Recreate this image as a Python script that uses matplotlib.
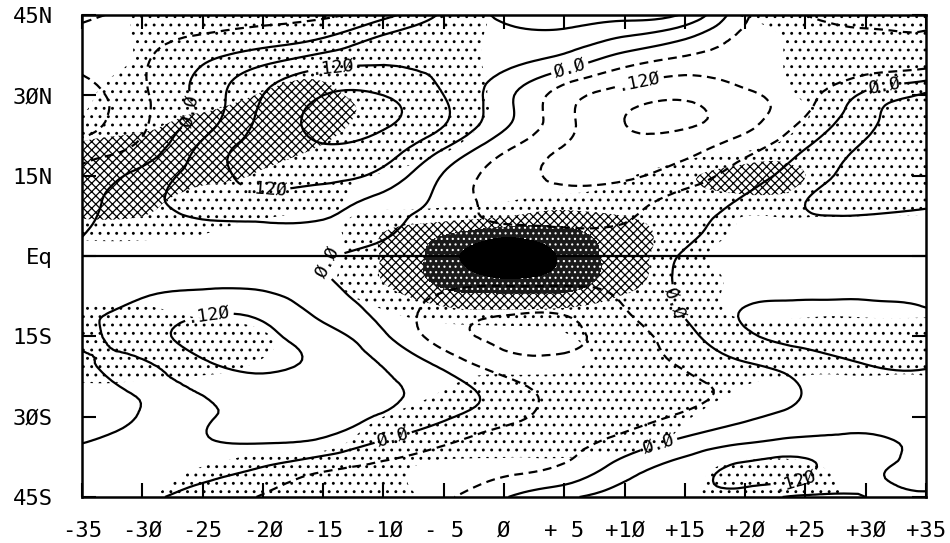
import numpy as np
import matplotlib

matplotlib.use("Agg")
import matplotlib.pyplot as plt
import matplotlib.tri as mtri

LONS = [-35, -30, -25, -20, -15, -10, -5, 0, 5, 10, 15, 20, 25, 30, 35]
LATS = [45, 40, 35, 30, 25, 20, 15, 10, 5, 0, -5, -10, -15, -20, -25, -30, -35, -40, -45]

# contoured field, one row per latitude (north to south)
FIELD = [
    [-0.14, -0.10, -0.09, -0.08, -0.07, -0.02, 0.07, 0.13, 0.15, 0.14, 0.11, -0.05, -0.12, -0.14, -0.14],
    [-0.09, -0.075, -0.045, -0.02, 0.015, 0.08, 0.10, 0.10, 0.09, 0.04, -0.01, -0.08, -0.10, -0.11, -0.11],
    [-0.11, -0.065, 0.005, 0.07, 0.12, 0.125, 0.11, 0.065, 0.005, -0.065, -0.10, -0.10, -0.09, -0.08, -0.06],
    [-0.15, -0.07, 0.02, 0.12, 0.18, 0.18, 0.12, 0.02, -0.09, -0.15, -0.17, -0.13, -0.08, 0.015, 0.07],
    [-0.15, -0.07, 0.03, 0.135, 0.195, 0.19, 0.125, 0.015, -0.10, -0.18, -0.19, -0.14, -0.05, 0.045, 0.09],
    [-0.09, -0.04, 0.075, 0.15, 0.175, 0.15, 0.06, -0.05, -0.125, -0.16, -0.14, -0.08, 0.0, 0.07, 0.095],
    [-0.045, 0.02, 0.09, 0.14, 0.14, 0.10, -0.005, -0.09, -0.13, -0.13, -0.09, -0.03, 0.035, 0.08, 0.09],
    [-0.02, 0.04, 0.085, 0.095, 0.08, 0.04, -0.02, -0.085, -0.095, -0.08, -0.035, 0.01, 0.06, 0.07, 0.065],
    [-0.005, 0.03, 0.045, 0.05, 0.05, 0.015, -0.04, -0.055, -0.058, -0.055, -0.015, 0.025, 0.045, 0.05, 0.05],
    [0.01, 0.03, 0.035, 0.03, 0.008, -0.025, -0.04, -0.045, -0.045, -0.035, 0.005, 0.03, 0.04, 0.045, 0.045],
    [0.02, 0.045, 0.05, 0.045, 0.01, -0.035, -0.05, -0.055, -0.055, -0.045, 0.012, 0.04, 0.05, 0.05, 0.05],
    [0.05, 0.075, 0.105, 0.10, 0.04, -0.02, -0.085, -0.11, -0.11, -0.062, 0.008, 0.062, 0.07, 0.07, 0.062],
    [0.05, 0.09, 0.145, 0.135, 0.085, 0.01, -0.09, -0.13, -0.13, -0.09, -0.02, 0.05, 0.08, 0.09, 0.09],
    [0.07, 0.055, 0.11, 0.135, 0.105, 0.055, -0.02, -0.095, -0.11, -0.09, -0.05, -0.003, 0.03, 0.062, 0.068],
    [0.085, 0.055, 0.065, 0.09, 0.085, 0.07, 0.03, -0.03, -0.085, -0.09, -0.075, -0.04, 0.003, 0.035, 0.04],
    [0.08, 0.058, 0.055, 0.075, 0.075, 0.055, 0.01, -0.04, -0.08, -0.08, -0.05, -0.01, 0.02, 0.04, 0.04],
    [0.06, 0.05, 0.055, 0.06, 0.045, -0.01, -0.055, -0.09, -0.08, -0.035, 0.02, 0.06, 0.08, 0.07, 0.05],
    [0.045, 0.035, 0.02, -0.01, -0.055, -0.08, -0.09, -0.075, -0.045, 0.035, 0.09, 0.135, 0.13, 0.07, 0.05],
    [0.03, 0.01, -0.02, -0.065, -0.09, -0.10, -0.07, -0.005, 0.05, 0.085, 0.10, 0.09, 0.05, 0.06, 0.065],
]

# shading class: 1 light dots, 2 crosses, 3 dark, 4 black core
STIPPLE = [
    [0, 0.6, 1, 1, 1, 1, 1, 0.3, 0, 0, 0, 0.6, 1, 1, 1],
    [0, 0.6, 1, 1, 1, 1, 1, 0.2, 0, 0, 0, 0, 0.8, 1, 1],
    [0, 0.7, 1, 1, 1.3, 1, 1, 0.2, 0, 0, 0, 0, 0.8, 1, 1],
    [0.3, 1, 1, 1.6, 1.7, 1.2, 1, 0.3, 0, 0, 0, 0, 0.6, 1, 1],
    [0.7, 1.2, 1.8, 2, 1.9, 1.1, 1, 0.2, 0, 0, 0, 0, 0.5, 1, 1],
    [1.8, 2, 2, 1.9, 1.4, 1, 0.6, 0, 0, 0, 0, 0.3, 1, 1, 1],
    [2, 2, 1.8, 1.4, 1, 0.4, 0, 0, 0, 0.4, 1.2, 2.1, 1.5, 1, 1],
    [2, 1.8, 1, 1, 0.7, 0.2, 0.2, 0.5, 1, 1, 1, 1, 1, 1, 1],
    [1, 1, 0.6, 0.2, 0.2, 1.4, 2.1, 2.7, 2.6, 1.9, 1, 0.4, 0.2, 0, 0],
    [0, 0, 0, 0, 0.1, 1.6, 3, 4.3, 3.3, 2, 0.8, 0.2, 0, 0, 0],
    [0, 0, 0, 0, 0.3, 1.5, 2.7, 3.2, 3, 1.8, 1, 0.3, 0, 0, 0],
    [0.6, 0.6, 0.3, 0.1, 0, 0.5, 1.3, 1.5, 1.4, 1.1, 1, 0.3, 0.3, 0.3, 0.3],
    [1, 1, 1, 0.6, 0, 0, 0, 0, 0.4, 1, 1, 1, 1, 1, 1],
    [1, 1, 1, 0.4, 0, 0, 0, 0, 0.2, 1, 1, 1, 1, 1, 1],
    [0.3, 0.2, 0, 0, 0, 0, 0.5, 1, 1, 1, 1, 0.4, 0, 0, 0],
    [0, 0, 0, 0, 0, 0.5, 1, 1, 1, 1, 0.6, 0, 0, 0, 0],
    [0, 0, 0, 0.2, 0.3, 0.8, 1, 1, 1, 0.8, 0.3, 0, 0, 0, 0],
    [0, 0, 0.6, 1, 1, 0.8, 0.2, 0, 0, 0, 0.3, 0.8, 0.8, 0, 0],
    [0, 0.4, 1, 1, 1, 1, 0.2, 0, 0, 0, 0.4, 1, 1, 0.2, 0],
]

LABELS = {0.0: "Ø.Ø", 0.12: ".12Ø", -0.12: ".12Ø"}
ZERO_LABEL_AT = [(-26.7, 27.5), (5.5, 34.7), (31.6, 31.9), (-14.7, -1.0),
                 (14.2, -8.8), (-9.2, -33.8), (12.9, -35.7)]
POS12_LABEL_AT = [(-19.8, 11.4), (-14.2, 35.1), (-24.4, -12.0), (24.1, -41.4)]
NEG12_LABEL_AT = [(11.3, 31.9)]

X_TICKS = [-35, -30, -25, -20, -15, -10, -5, 0, 5, 10, 15, 20, 25, 30, 35]
X_LABELS = ["-35", "-3Ø", "-25", "-2Ø", "-15", "-1Ø", "- 5", "Ø",
            "+ 5", "+1Ø", "+15", "+2Ø", "+25", "+3Ø", "+35"]
Y_TICKS = [-45, -30, -15, 0, 15, 30, 45]
Y_LABELS = ["45S", "3ØS", "15S", "Eq", "15N", "3ØN", "45N"]

plt.rcParams["font.family"] = ["DejaVu Sans Mono"]

fig = plt.figure(figsize=(9.5, 5.43), dpi=100)
ax = fig.add_axes([82 / 950, 46 / 543, 844 / 950, 482 / 543])

lon_g, lat_g = np.meshgrid(LONS, LATS)
tri = mtri.Triangulation(lon_g.ravel(), lat_g.ravel())
refiner = mtri.UniformTriRefiner(tri)
tri_f, field_f = refiner.refine_field(np.ravel(FIELD), subdiv=3)
tri_s, stip_f = refiner.refine_field(np.ravel(STIPPLE).astype(float), subdiv=3)

# stippling
with plt.rc_context({"hatch.color": "black", "hatch.linewidth": 0.9}):
    ax.tricontourf(tri_s, stip_f, levels=[0.5, 1.5, 2.5], colors="none",
                   hatches=["..", "xxxx"], zorder=1)
with plt.rc_context({"hatch.color": "white", "hatch.linewidth": 0.8}):
    ax.tricontourf(tri_s, stip_f, levels=[2.5, 3.5], colors=["#1a1a1a"],
                   hatches=["..."], zorder=1)
ax.tricontourf(tri_s, stip_f, levels=[3.5, 10], colors=["black"], zorder=1)

dashed = [(0, (4, 2.5))]
line_kw = dict(colors="k", linewidths=1.6, zorder=3)
ax.tricontour(tri_f, field_f, levels=[-0.18, -0.06], linestyles=dashed, **line_kw)
ax.tricontour(tri_f, field_f, levels=[0.06, 0.18], linestyles="solid", **line_kw)
zero = ax.tricontour(tri_f, field_f, levels=[0.0], linestyles="solid", **line_kw)
p12 = ax.tricontour(tri_f, field_f, levels=[0.12], linestyles="solid", **line_kw)
n12 = ax.tricontour(tri_f, field_f, levels=[-0.12], linestyles=dashed, **line_kw)

label_kw = dict(fmt=LABELS, fontsize=13, inline=True, inline_spacing=3)
ax.clabel(zero, manual=ZERO_LABEL_AT, **label_kw)
ax.clabel(p12, manual=POS12_LABEL_AT, **label_kw)
ax.clabel(n12, manual=NEG12_LABEL_AT, **label_kw)

ax.axhline(0, color="k", lw=1.6, zorder=4)

ax.set_xlim(-35, 35)
ax.set_ylim(-45, 45)
ax.set_xticks(X_TICKS)
ax.set_xticklabels(X_LABELS)
ax.set_yticks(Y_TICKS)
ax.set_yticklabels(Y_LABELS)
ax.tick_params(direction="in", length=10, width=1.5, top=True, right=True,
               labelsize=16)
ax.tick_params(axis="x", pad=17)
ax.tick_params(axis="y", pad=21)
for spine in ax.spines.values():
    spine.set_linewidth(1.8)

fig.savefig("out.png", dpi=100)
